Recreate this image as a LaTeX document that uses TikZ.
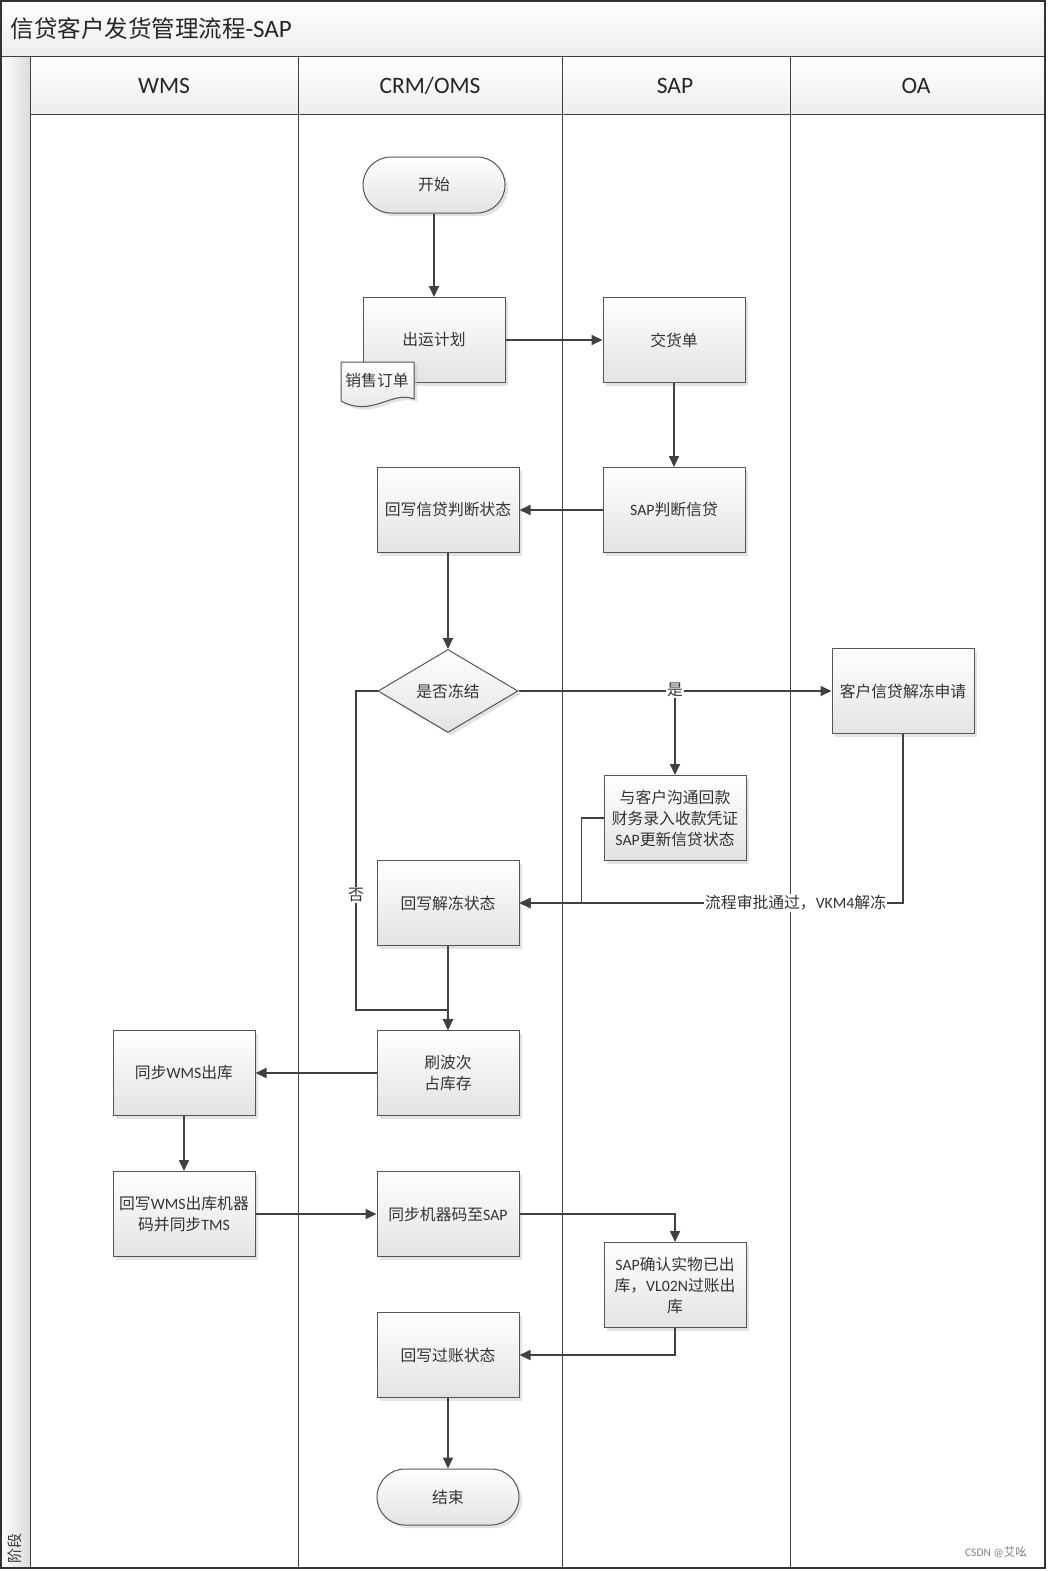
\documentclass[tikz,border=0pt]{standalone}
\usepackage{fontspec}
\setmainfont{Noto Sans CJK SC}
\newfontfamily\lat{Carlito}
\usetikzlibrary{positioning,shapes.geometric,shadows,arrows.meta}
\definecolor{edgegray}{HTML}{404040}
\definecolor{framegray}{HTML}{555555}
\tikzset{
  box/.style={draw=framegray, line width=1pt, rectangle, minimum width=142pt, minimum height=85pt,
    top color=white, bottom color=black!11, drop shadow={shadow xshift=3pt, shadow yshift=-3pt, fill=black!22},
    align=center, inner sep=2pt, font=\fontsize{15.8}{21}\selectfont, text=black!80},
  term/.style={box, minimum height=56pt, rounded corners=28pt},
  decide/.style={box, diamond, minimum width=140pt, minimum height=83pt, inner sep=0pt},
  flow/.style={draw=edgegray, line width=1.8pt, -{Triangle[length=11pt,width=10pt]}},
  lbl/.style={fill=white, inner sep=1pt, font=\fontsize{15.8}{18}\selectfont, text=black!80},
  lane/.style={draw=black!75, line width=1pt},
  lanetitle/.style={font=\fontsize{23.5}{26}\lat, text=black!85}
}
\begin{document}
\begin{tikzpicture}[x=1pt,y=-1pt]
\useasboundingbox (0,0) rectangle (1047,1571);
% bands
\fill[top color=white, bottom color=black!7] (1,1) rectangle (1045,57);
\fill[top color=white, bottom color=black!7] (30,57) rectangle (1045,114);
\fill[left color=white, right color=black!14] (1,57) rectangle (30,1568);
% lanes
\draw[lane] (1,57) -- (1045,57);
\draw[lane] (30,114) -- (1045,114);
\foreach \lx in {30,298,562,790} {
  \draw[lane] (\lx,57) -- (\lx,1568);
}
\draw[draw=black!80, line width=1.5pt] (1,1) rectangle (1045,1568);
\node[anchor=west, font=\fontsize{23.5}{27}\selectfont, text=black!85] (title) at (7,29) {信贷客户发货管理流程{\lat\fontsize{25}{27}\selectfont -SAP}};
\node[lanetitle] (hwms) at (164,86) {WMS};
\node[lanetitle] (hcrm) at (430,86) {CRM/OMS};
\node[lanetitle] (hsap) at (675,86) {SAP};
\node[lanetitle] (hoa) at (916,86) {OA};
\node[rotate=90, font=\fontsize{15}{18}\selectfont, text=black!80] (phase) at (15,1548) {阶段};
\node[font=\fontsize{11.5}{13}\selectfont, text=black!50] (mark) at (996,1552) {{\lat CSDN @}艾吆};

% nodes
\node[term] (ks) at (434,185) {开始};
\node[box] (cy) at (434,340) {出运计划};
\filldraw[draw=framegray, line width=1pt, top color=white, bottom color=black!11,
  drop shadow={shadow xshift=3pt, shadow yshift=-3pt, fill=black!22}]
  (341,362) -- (414,362) -- (414,399) .. controls (392,390) and (372,418) .. (341,401) -- cycle;
\node[font=\fontsize{15.8}{18}\selectfont, text=black!80] (xd) at (377,380) {销售订单};
\node[box] (jh) at (674,340) {交货单};
\node[box] (pd) at (674,510) {{\lat SAP}判断信贷};
\node[box] (hx) at (448,510) {回写信贷判断状态};
\node[decide] (dz) at (448,691) {是否冻结};
\node[box] (sq) at (903,691) {客户信贷解冻申请};
\node[box] (hk) at (675,818) {与客户沟通回款\\财务录入收款凭证\\{\lat SAP}更新信贷状态};
\node[box] (jd) at (448,903) {回写解冻状态};
\node[box] (sb) at (448,1073) {刷波次\\占库存};
\node[box] (tw) at (184,1073) {同步{\lat WMS}出库};
\node[box] (hw) at (184,1214) {回写{\lat WMS}出库机器\\码并同步{\lat TMS}};
\node[box] (tb) at (448,1214) {同步机器码至{\lat SAP}};
\node[box] (qr) at (675,1285) {{\lat SAP}确认实物已出\\库，{\lat VL02N}过账出\\库};
\node[box] (hz) at (448,1355) {回写过账状态};
\node[term] (js) at (448,1497) {结束};

% connectors
\draw[flow] (ks) -- (cy);
\draw[flow] (cy) -- (jh);
\draw[flow] (jh) -- (pd);
\draw[flow] (pd) -- (hx);
\draw[flow] (hx) -- (dz);
\draw[flow] (dz.east) -- (sq.west);
\draw[flow] (dz.east -| hk.north) -- (hk.north);
\node[lbl] (yes) at (675,690) {是};
\draw[flow] (dz.west) -| (356,1010) -| (sb.north);
\node[lbl] (no) at (356,895) {否};
\draw[flow] (sq.south) |- node[pos=0.64, lbl] {流程审批通过，{\lat VKM4}解冻} (jd.east);
\draw[flow] (hk.west) -- ++(-22,0) |- (jd.east);
\draw[flow] (jd) -- (sb);
\draw[flow] (sb) -- (tw);
\draw[flow] (tw) -- (hw);
\draw[flow] (hw) -- (tb);
\draw[flow] (tb.east) -| (qr.north);
\draw[flow] (qr.south) |- (hz.east);
\draw[flow] (hz) -- (js);
\end{tikzpicture}
\end{document}
